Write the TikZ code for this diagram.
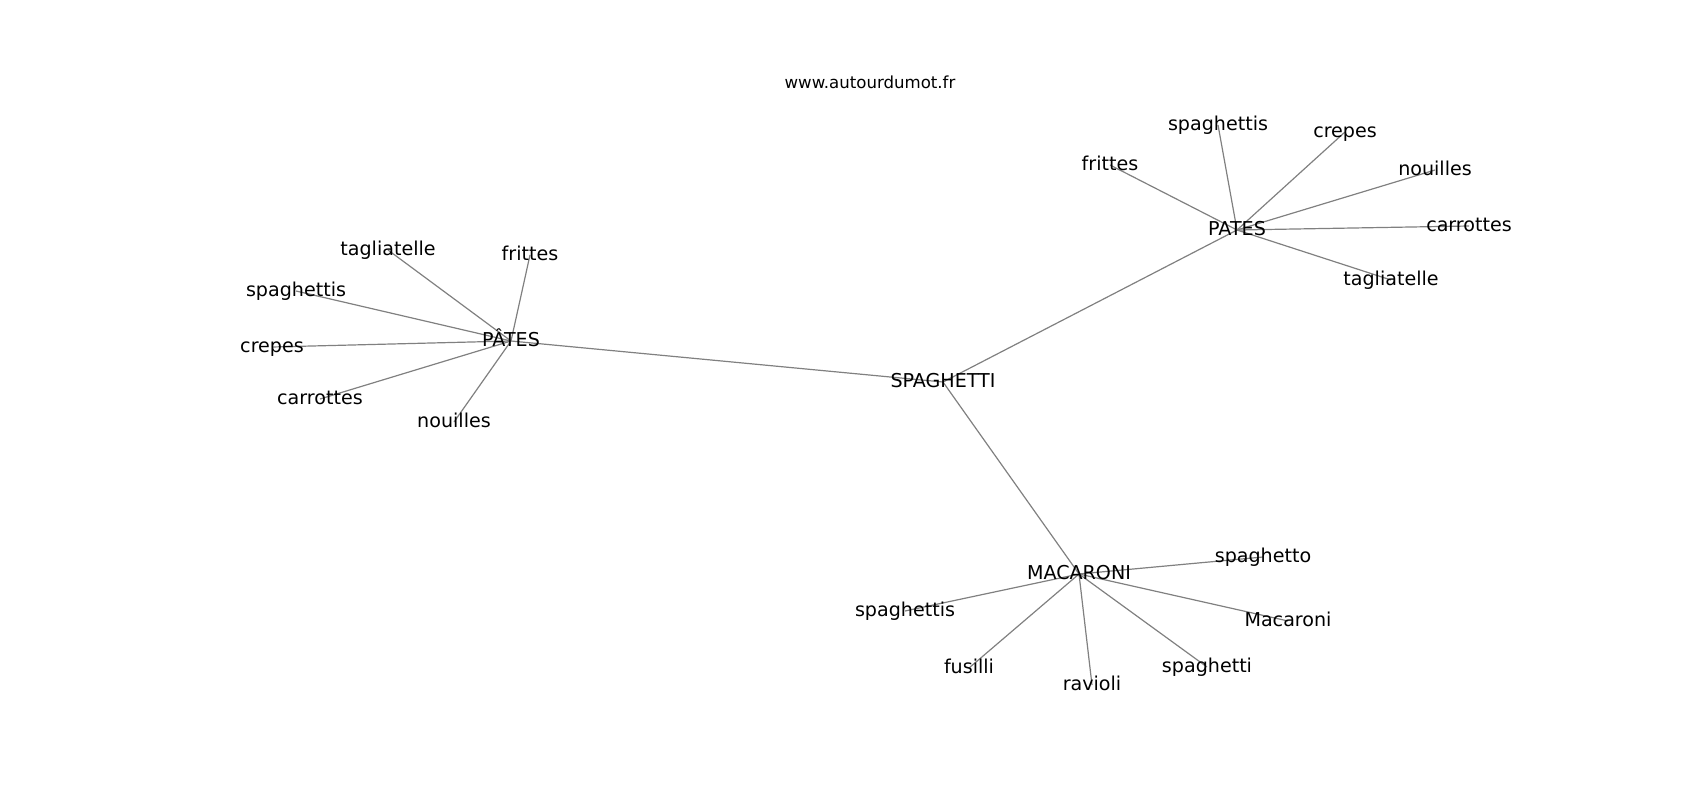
\documentclass[tikz,border=0pt]{standalone}
\usepackage{fontspec}
\setmainfont{DejaVu Sans}
\usepackage{xcolor}
\usepackage{tikz}
\usetikzlibrary{backgrounds}
\definecolor{edgegray}{HTML}{808080}

\begin{document}
\begin{tikzpicture}[x=1pt,y=-1pt,
        word/.style={inner sep=0pt,text height=1.24em,text depth=0.14em,font=\fontsize{19.1}{21}\selectfont},
        link/.style={draw=edgegray,line width=1.2pt}]
        \useasboundingbox (0,0) rectangle (1700,800);
        \node[font=\fontsize{16.6}{18}\selectfont] (site) at (870,82) {www.autourdumot.fr};
        % hubs
        \node[word] (spag) at (943,382) {SPAGHETTI};
        \node[word] (pateA) at (511,341) {PÂTES};
        \node[word] (pateB) at (1237,230) {PATES};
        \node[word] (maca) at (1079,574) {MACARONI};
        % leaves
        \foreach \name/\txt/\x/\y in {
            a1/tagliatelle/388/250, a2/frittes/530/255, a3/spaghettis/296/291,
            a4/crepes/272/347, a5/carrottes/320/399, a6/nouilles/454/422,
            b1/spaghettis/1218/125, b2/crepes/1345/132, b3/frittes/1110/165,
            b4/nouilles/1435/170, b5/carrottes/1469/226, b6/tagliatelle/1391/280,
            c1/spaghetto/1263/557, c2/Macaroni/1288/621, c3/spaghetti/1207/667,
            c4/ravioli/1092/685, c5/fusilli/969/668, c6/spaghettis/905/611}
          \node[word] (\name) at (\x,\y) {\txt};
        \begin{pgfonlayer}{background}
          \foreach \a/\b in {spag/pateA, spag/pateB, spag/maca}
            \draw[link] (\a.center) -- (\b.center);
          \foreach \i in {1,...,6} {
            \draw[link] (pateA.center) -- (a\i.center);
            \draw[link] (pateB.center) -- (b\i.center);
            \draw[link] (maca.center) -- (c\i.center);
          }
        \end{pgfonlayer}
      \end{tikzpicture}
\end{document}
